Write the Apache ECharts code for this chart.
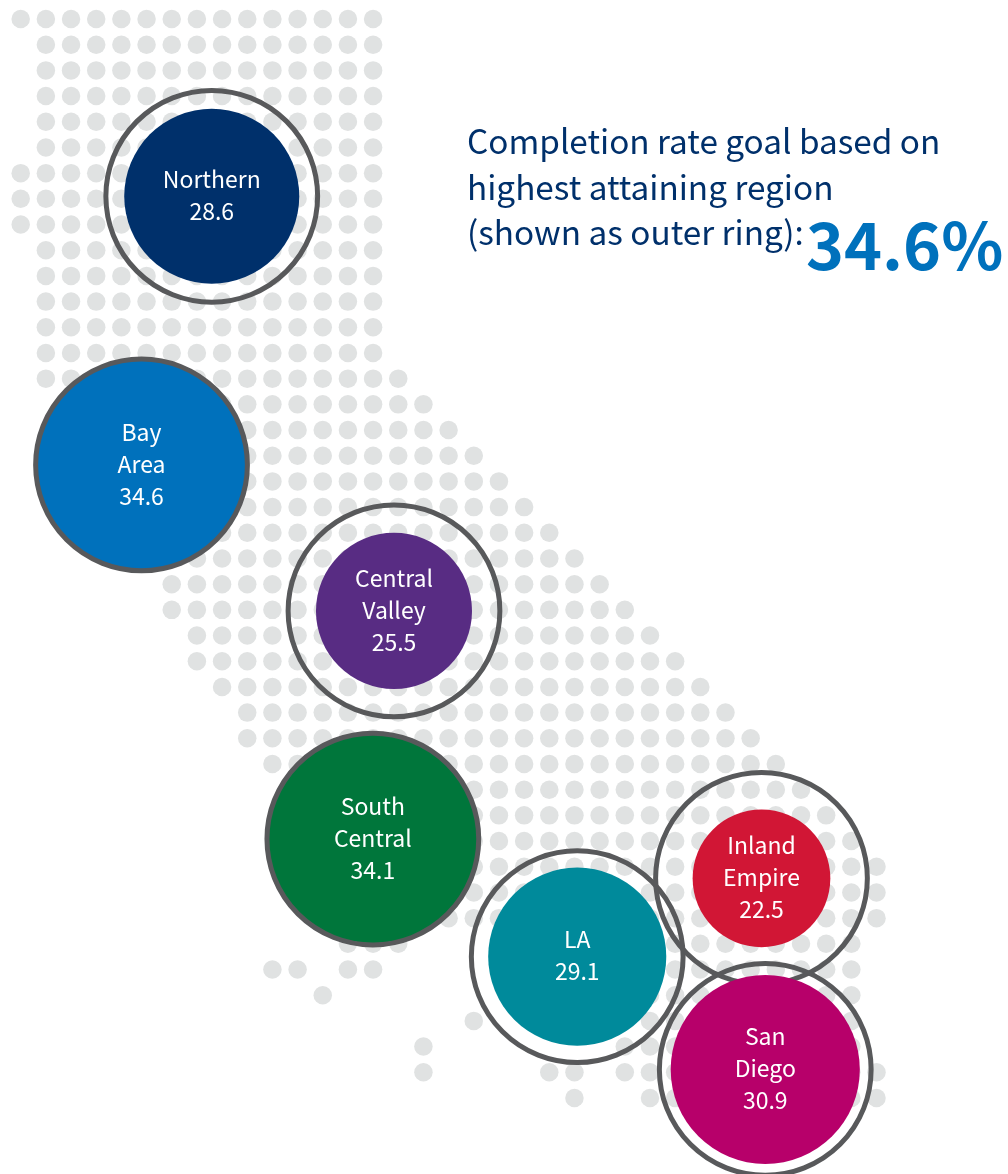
<!DOCTYPE html>
<html>
<head>
<meta charset="utf-8">
<style>html,body{margin:0;padding:0;background:#fff}#c{width:1008px;height:1174px}</style>
<script src="https://cdn.jsdelivr.net/npm/echarts@6/dist/echarts.min.js"></script>
</head>
<body>
<div id="c"></div>
<script>
// Map of California: for each grid row, the runs of columns holding a dot
const dotRuns = [
  [[0,14]],[[1,14]],[[1,14]],[[1,14]],[[1,14]],[[1,14]],
  [[0,14]],[[0,14]],[[0,14]],
  [[1,14]],[[1,14]],[[1,14]],[[1,14]],[[1,14]],
  [[1,15]],[[2,16]],[[2,17]],[[2,18]],[[2,19]],[[2,20]],
  [[4,21]],[[5,22]],[[6,23]],[[6,24]],[[7,25]],[[7,26]],
  [[8,27]],[[9,28]],[[9,29]],[[10,30]],[[11,31]],[[11,32]],
  [[11,33]],[[11,34]],[[12,34]],[[13,34]],
  [[13,15],[19,33]],
  [[10,11],[13,14],[20,33]],
  [[12,12],[20,33]],
  [[18,18],[21,33]],
  [[16,16],[24,33]],
  [[16,16],[21,22],[24,34]],
  [[22,22],[25,34]]
];

const regionNames = ['Northern','Bay\nArea','Central\nValley','South\nCentral','LA','Inland\nEmpire','San\nDiego'];
const regionValues = [28.6,34.6,25.5,34.1,29.1,22.5,30.9];
const regionCols = [7.59,4.80,14.83,13.99,22.11,29.43,29.58];
const regionRows = [6.90,17.36,23.04,31.92,36.50,33.45,40.89];
const regionColors = ['#00306b','#0071bc','#582c83','#00763b','#008a9b','#d11635','#b7006a'];
const goalValue = 34.6;
const titleLines = ['Completion rate goal based on','highest attaining region','(shown as outer ring):'];

const dots = [];
dotRuns.forEach((runs, row) => runs.forEach(([a, b]) => {
  for (let col = a; col <= b; col++) dots.push([col, row]);
}));

const pxPerUnit = 6.12; // diameter in pixels per percentage point
const series = [{
  type: 'scatter', data: dots, symbolSize: 18.5, silent: true,
  itemStyle: { color: '#e0e2e2', opacity: 1 }
}];
regionNames.forEach((name, i) => {
  const point = [regionCols[i], regionRows[i]];
  series.push({
    type: 'scatter', silent: true, symbolSize: regionValues[i] * pxPerUnit,
    data: [{ value: point, name }],
    itemStyle: { color: regionColors[i], opacity: 1 },
    label: {
      show: true, position: 'inside', color: '#fff', offset: [0, -1],
      fontFamily: '"Noto Sans CJK SC"', fontSize: 23, lineHeight: 32,
      formatter: () => name + '\n' + regionValues[i].toFixed(1)
    }
  });
  series.push({
    type: 'scatter', silent: true, symbolSize: goalValue * pxPerUnit,
    data: [point],
    itemStyle: { color: 'rgba(0,0,0,0)', borderColor: '#58595b', borderWidth: 5, opacity: 1 }
  });
});

const chart = echarts.init(document.getElementById('c'), null, { renderer: 'canvas' });
chart.setOption({
  animation: false,
  backgroundColor: '#fff',
  title: [
    { text: titleLines.join('\n'), left: 467, top: 119, padding: 0,
      textStyle: { fontFamily: '"Noto Sans CJK SC"', fontSize: 33.3, fontWeight: 400, color: '#00306b', lineHeight: 45.5 } },
    { text: goalValue.toFixed(1) + '%', left: 806, top: 202, padding: 0,
      textStyle: { fontFamily: '"Noto Sans CJK SC"', fontSize: 64.5, fontWeight: 700, color: '#0071bc', lineHeight: 86 } }
  ],
  grid: { left: 0, right: 0, top: 0, bottom: 0 },
  xAxis: { type: 'value', show: false, min: -0.8224, max: 39.224, splitLine: { show: false } },
  yAxis: { type: 'value', show: false, inverse: true, min: -0.7396, max: 44.96, splitLine: { show: false } },
  series
});
</script>
</body>
</html>
